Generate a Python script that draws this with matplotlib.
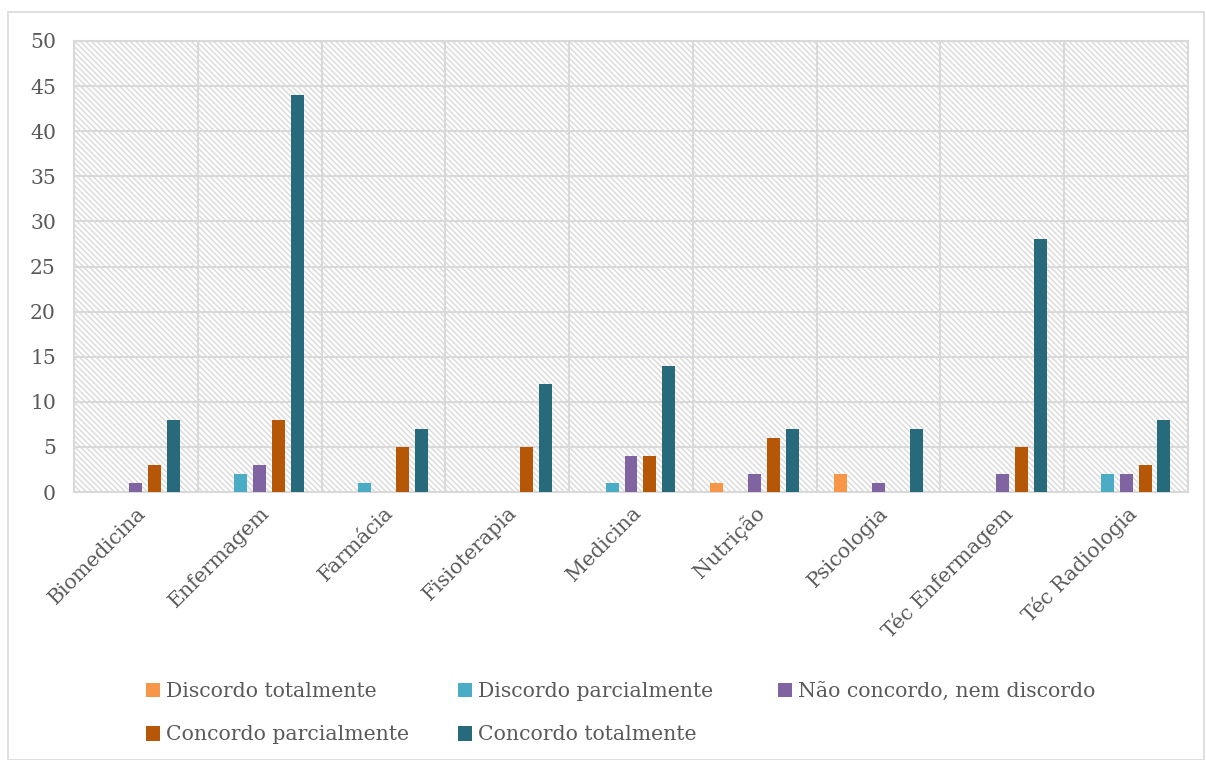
import matplotlib
matplotlib.use("Agg")
import matplotlib.pyplot as plt
from matplotlib.patches import Rectangle
import numpy as np

plt.rcParams['font.family'] = ['DejaVu Serif']
plt.rcParams['hatch.linewidth'] = 1.0
plt.rcParams['hatch.color'] = '#D9D9D9'

cursos = ['Biomedicina', 'Enfermagem', 'Farmácia', 'Fisioterapia', 'Medicina',
          'Nutrição', 'Psicologia', 'Téc Enfermagem', 'Téc Radiologia']
series = ['Discordo totalmente', 'Discordo parcialmente', 'Não concordo, nem discordo',
          'Concordo parcialmente', 'Concordo totalmente']
discordo_total = [0, 0, 0, 0, 0, 1, 2, 0, 0]
discordo_parcial = [0, 2, 1, 0, 1, 0, 0, 0, 2]
neutro = [1, 3, 0, 0, 4, 2, 1, 2, 2]
concordo_parcial = [3, 8, 5, 5, 4, 6, 0, 5, 3]
concordo_total = [8, 44, 7, 12, 14, 7, 7, 28, 8]
cores = ['#F79646', '#4BACC6', '#8064A2', '#B65708', '#276A7C']

valores = [discordo_total, discordo_parcial, neutro, concordo_parcial, concordo_total]

fig = plt.figure(figsize=(12.06, 7.6), dpi=100)
ax = fig.add_axes([74 / 1206, 1 - 492 / 760, (1188 - 74) / 1206, (492 - 41) / 760])

# borda externa do gráfico
fig.patches.append(Rectangle((8 / 1206, 0), (1204 - 8) / 1206, 1 - 12 / 760,
                             transform=fig.transFigure, fill=False,
                             edgecolor='#D9D9D9', linewidth=1.2))

ax.set_facecolor('white')
ax.add_patch(Rectangle((0, 0), 1, 1, transform=ax.transAxes, facecolor='white',
                       hatch='\\\\\\\\\\\\', edgecolor='#D9D9D9', linewidth=0, zorder=0))

x = np.arange(len(cursos))
w = 0.105
passo = 0.153
barras = []
for i, (nome, vals) in enumerate(zip(series, valores)):
    b = ax.bar(x + (i - 2) * passo, vals, width=w, color=cores[i], label=nome, zorder=3)
    barras.append(b)

ax.set_xlim(-0.5, len(cursos) - 0.5)
ax.set_ylim(0, 50)
ax.set_yticks(range(0, 51, 5))
ax.set_xticks(x)
ax.set_xticklabels(cursos, rotation=45, ha='right', rotation_mode='anchor')
ax.set_xticks(np.arange(-0.5, len(cursos), 1), minor=True)
ax.grid(True, axis='y', color='#D9D9D9', linewidth=1.5, zorder=1)
ax.grid(True, axis='x', which='minor', color='#D9D9D9', linewidth=1.5, zorder=1)
ax.grid(False, axis='x', which='major')
ax.tick_params(axis='both', which='both', length=0, labelsize=14.7, colors='#595959')
ax.tick_params(axis='y', pad=13)
ax.tick_params(axis='x', pad=8)
for s in ax.spines.values():
    s.set_color('#D9D9D9')
    s.set_linewidth(1.5)
ax.set_axisbelow(True)

# legenda em colunas de largura fixa, preenchida por linhas (como no Excel)
colunas = [[0, 3], [1, 4], [2]]
x_col = [146, 458, 778]
for xc, idx in zip(x_col, colunas):
    leg = fig.legend([barras[k] for k in idx], [series[k] for k in idx],
                     loc='upper left', bbox_to_anchor=(xc / 1206, 1 - 682 / 760),
                     frameon=False, borderpad=0, borderaxespad=0,
                     fontsize=14.7, labelcolor='#595959', handlelength=0.7,
                     handleheight=0.7, handletextpad=0.3, labelspacing=1.2)

fig.savefig('out.png', dpi=100)
